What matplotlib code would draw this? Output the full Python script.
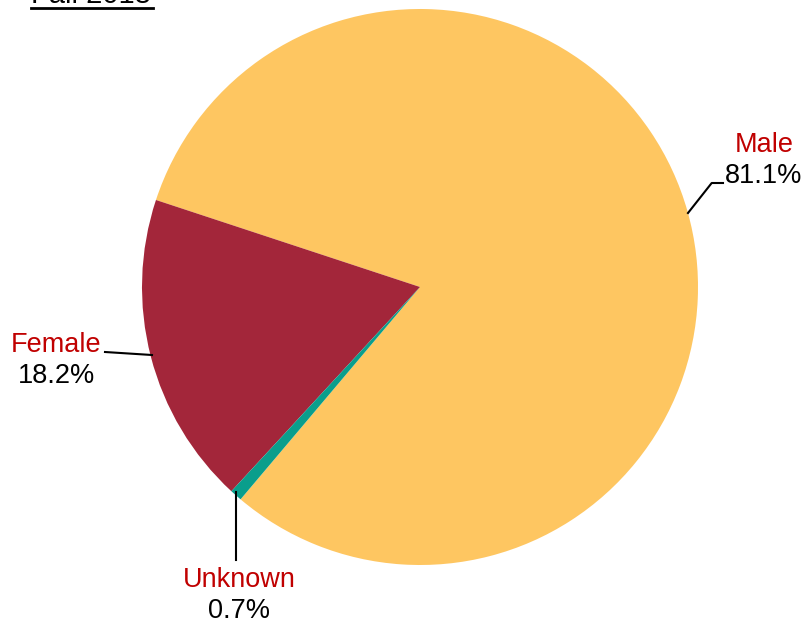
import matplotlib.pyplot as plt

plt.rcParams['font.family'] = ['Liberation Sans', 'DejaVu Sans']

# données
categories = ["Male", "Female", "Unknown"]
pourcentages = [81.1, 18.2, 0.7]
couleurs = ["#FEC661", "#A3263A", "#0A9E8C"]
titre = "Fall 2018"

W, H = 805, 623
fig = plt.figure(figsize=(W / 100, H / 100), dpi=100)
ax = fig.add_axes([0, 0, 1, 1])

# le camembert (coordonnées en pixels, y vers le haut)
ax.pie(pourcentages, colors=couleurs, startangle=229.8, counterclock=True,
       center=(420, H - 287), radius=278, frame=True,
       wedgeprops=dict(linewidth=0))
ax.set_xlim(0, W)
ax.set_ylim(0, H)
ax.set_aspect('equal')
ax.axis('off')

def y(py):
  return H - py

# titre souligné (coupé en haut)
ax.text(31, y(3), titre, fontsize=21, ha='left', va='baseline', color='black')
ax.plot([31, 153], [y(8), y(8)], color='black', lw=2)

rouge = "#C00000"
# étiquettes : (x, y nom, y pourcentage)
positions = {"Male": (764, 152, 183),
             "Female": (56, 352, 383),
             "Unknown": (239, 587, 618)}
for nom, pct in zip(categories, pourcentages):
  px, yn, yp = positions[nom]
  ax.text(px, y(yn), nom, fontsize=19.5, color=rouge, ha='center', va='baseline')
  ax.text(px, y(yp), f"{pct}%", fontsize=19.5, color='black', ha='center',
          va='baseline')

# traits de rappel
ax.plot([688, 711.7, 723], [y(213), y(183), y(183)], color='black', lw=1.5)
ax.plot([105, 152], [y(352), y(355)], color='black', lw=1.5)
ax.plot([236, 236], [y(492), y(560)], color='black', lw=1.5)

fig.savefig("out.png", dpi=100)
